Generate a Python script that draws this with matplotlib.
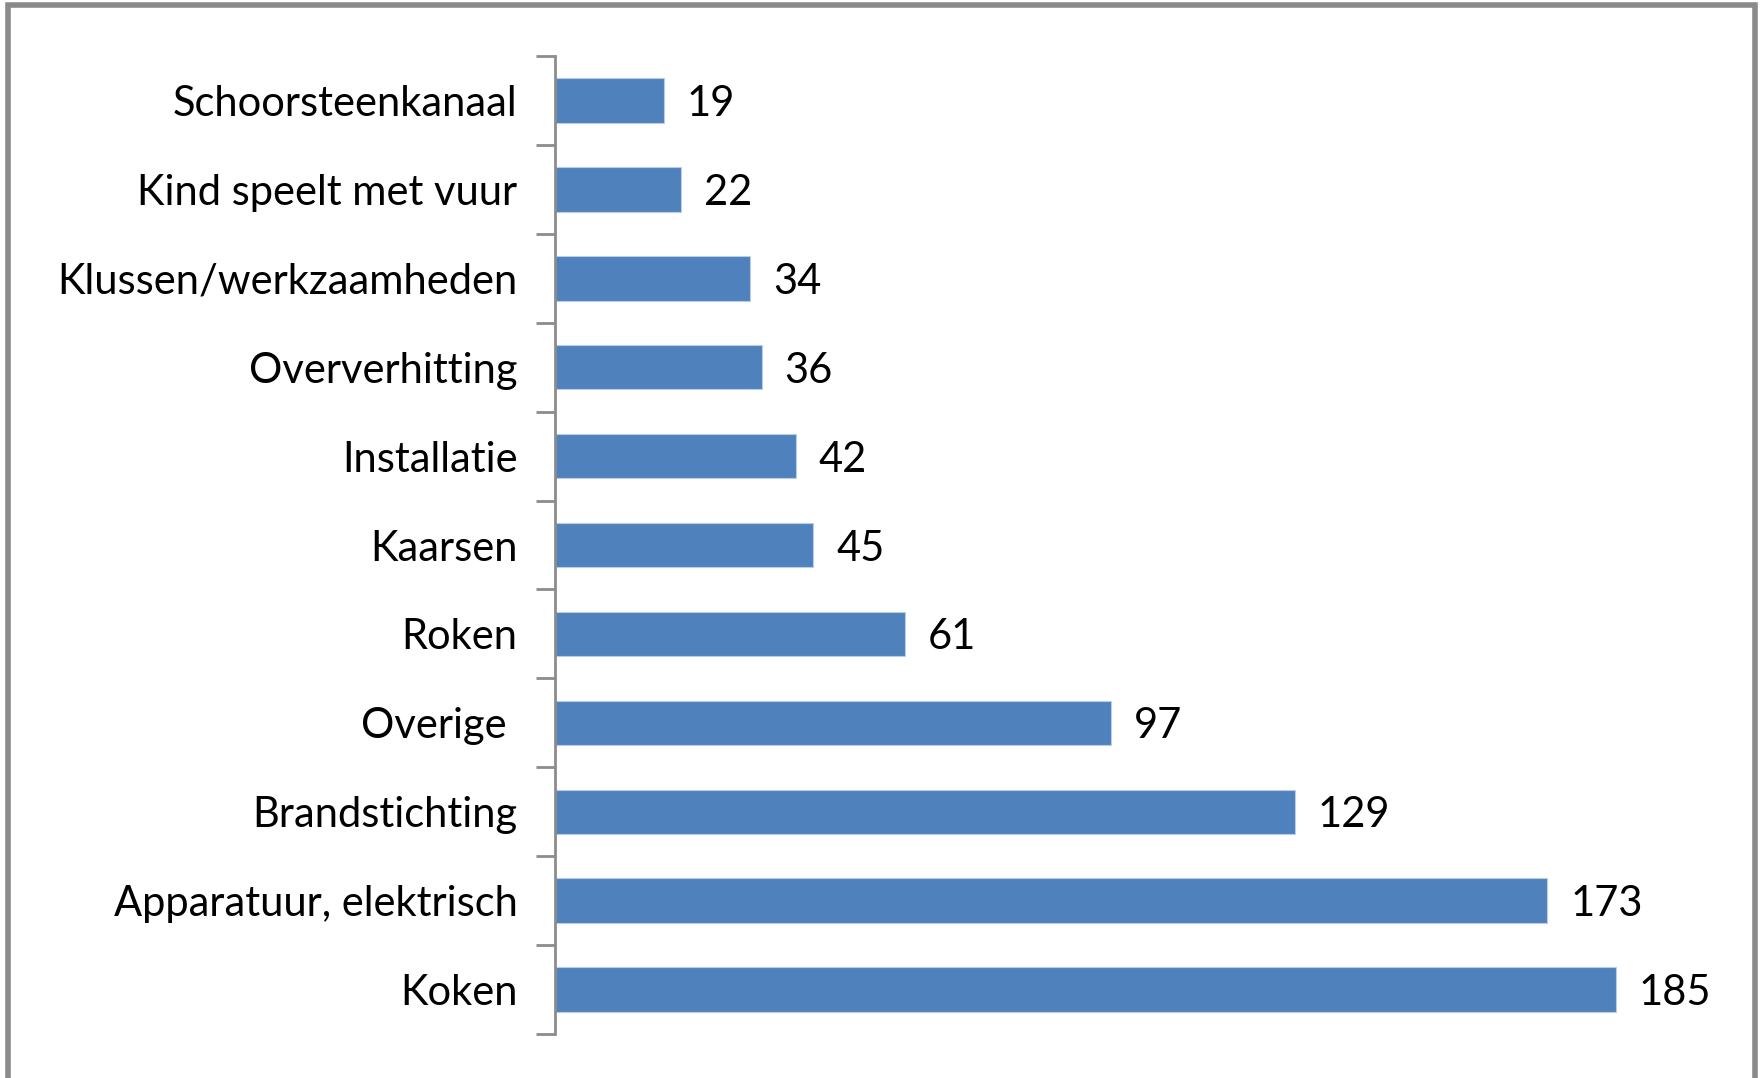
import numpy as np
import matplotlib
matplotlib.use('Agg')
import matplotlib.pyplot as plt
from matplotlib.patches import Rectangle

# oorzaken van woningbranden, van boven naar beneden
oorzaken = ["Schoorsteenkanaal", "Kind speelt met vuur", "Klussen/werkzaamheden",
            "Oververhitting", "Installatie", "Kaarsen", "Roken", "Overige ",
            "Brandstichting", "Apparatuur, elektrisch", "Koken"]
aantallen = [19, 22, 34, 36, 42, 45, 61, 97, 129, 173, 185]

plt.rcParams['font.family'] = ['Lato', 'DejaVu Sans']

fig = plt.figure(figsize=(17.62, 10.78), dpi=100)
ax = fig.add_axes([0.315, 0.0408, 0.651, 0.9072])

labels = oorzaken[::-1]
vals = aantallen[::-1]
y = np.arange(len(vals))
ax.barh(y, vals, height=0.5, color="#4f81bd", edgecolor="#b9cde5", linewidth=0.8)

for yi, v in zip(y, vals):
	ax.text(v + 4, yi, str(v), va="center_baseline", ha="left", fontsize=30)

ax.set_xlim(0, 200)
ax.set_ylim(-0.5, len(vals) - 0.5)
ax.set_yticks(y)
ax.set_yticklabels(labels, fontsize=30)
ax.set_yticks(np.arange(len(vals) + 1) - 0.5, minor=True)
ax.tick_params(axis="y", which="major", length=0, pad=27)
ax.tick_params(axis="y", which="minor", length=14, width=2, color="#8c8c8c")
ax.set_xticks([])
for s in ["top", "right", "bottom"]:
	ax.spines[s].set_visible(False)
ax.spines["left"].set_color("#8c8c8c")
ax.spines["left"].set_linewidth(2)

# grijze rand om de figuur
fig.patches.append(Rectangle((0.0045, -0.01), 0.9915, 1.0055, transform=fig.transFigure,
	fill=False, edgecolor="#8a8a8a", linewidth=4))

fig.savefig("out.png", dpi=100)
